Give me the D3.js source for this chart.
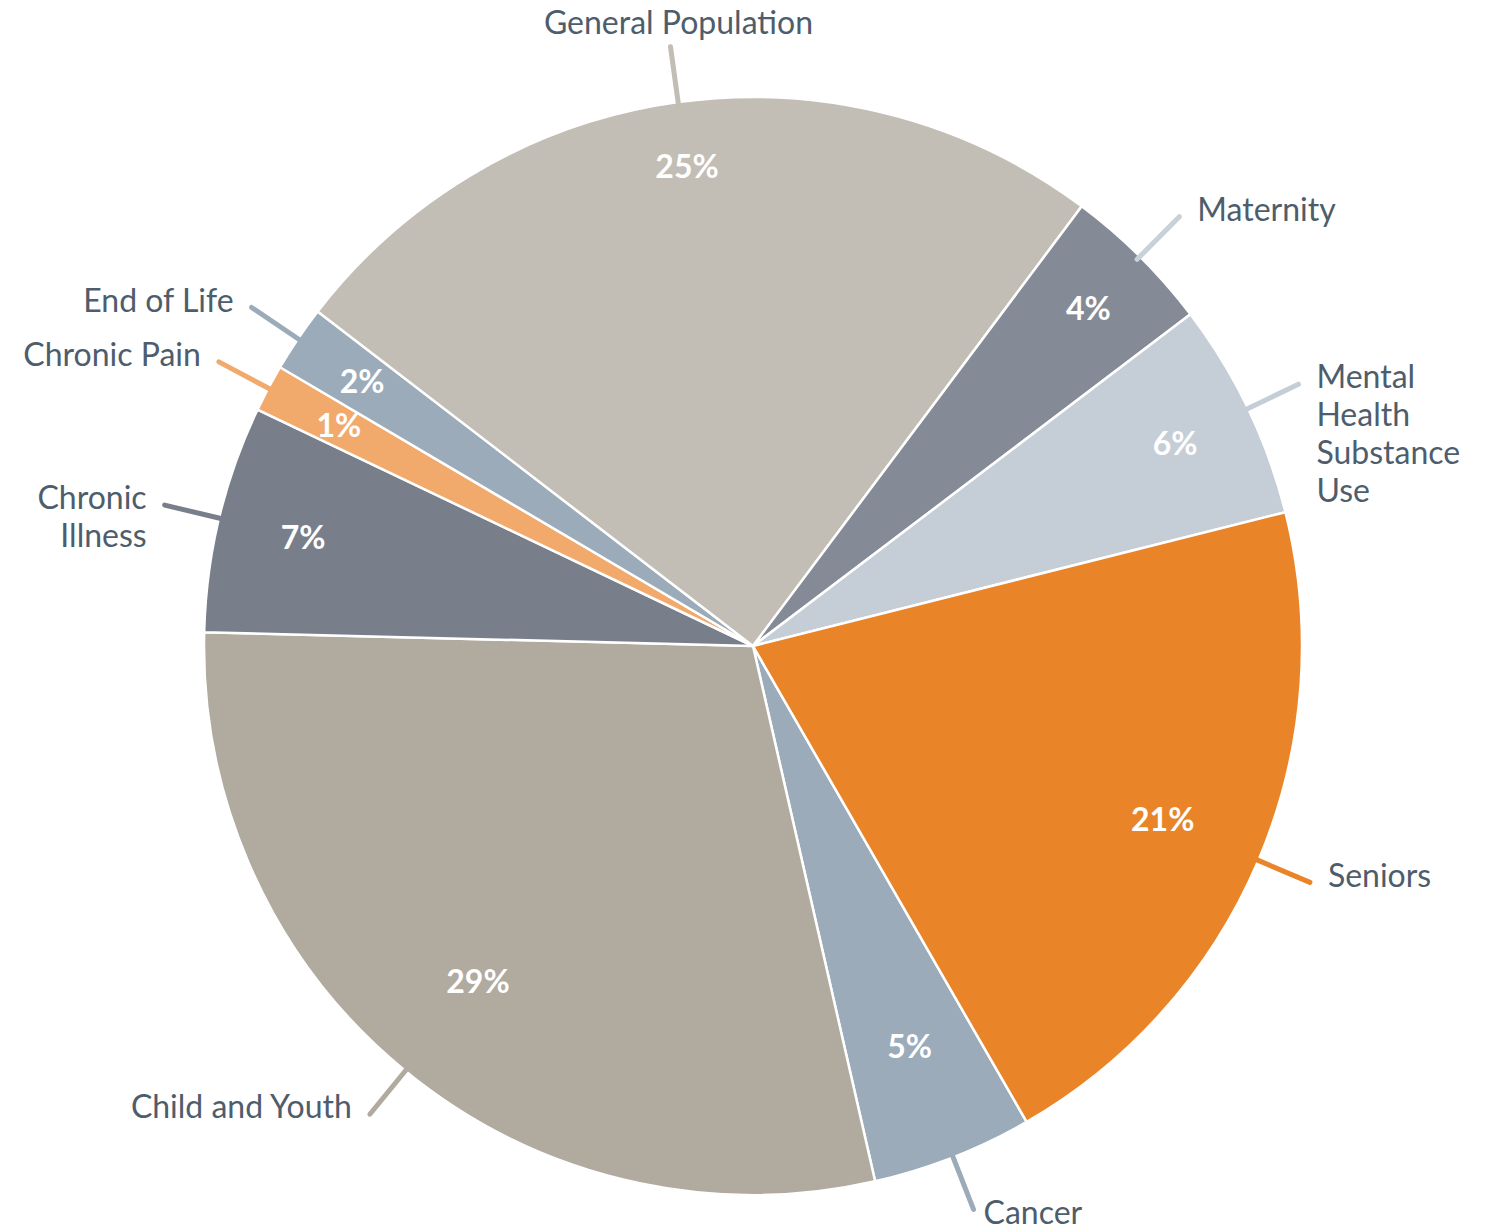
<!DOCTYPE html>
<html>
<head>
<meta charset="utf-8">
<script src="https://cdn.jsdelivr.net/npm/d3@7"></script>
<style>
  body { margin: 0; background: #fff; }
  svg { display: block; font-family: Lato, "Open Sans", sans-serif; }
</style>
</head>
<body>
<div id="chart"></div>
<script>
const categories = ["Cancer", "Child and Youth", "Chronic Illness", "Chronic Pain", "End of Life",
    "General Population", "Maternity", "Mental Health Substance Use", "Seniors"];
const counts = [17, 104, 24, 5, 7, 89, 16, 23, 74];
const sliceColors = ["#9babb9", "#b1aa9f", "#787e8a", "#f1aa6b", "#9babb9",
    "#c2bdb5", "#858b96", "#c5cdd6", "#e98428"];
const lineColors = ["#9babb9", "#b1aa9f", "#787e8a", "#f1aa6b", "#9babb9",
    "#c2bdb5", "#c8d0d8", "#c5cdd6", "#e98428"];

const data = categories.map((c, i) => ({ name: c, value: counts[i] }));
const total = d3.sum(counts);

const W = 1508, H = 1232, cx = 753, cy = 646, r = 549;
const start = 150.1 * Math.PI / 180;

const color = d3.scaleOrdinal().domain(categories).range(sliceColors);
const lineColor = d3.scaleOrdinal().domain(categories).range(lineColors);

const pie = d3.pie().sort(null).value(d => d.value)
    .startAngle(start).endAngle(start + 2 * Math.PI);
const arc = d3.arc().innerRadius(0).outerRadius(r);
const arcs = pie(data);

const pt = (a, rad) => [rad * Math.sin(a), -rad * Math.cos(a)];
const mid = d => (d.startAngle + d.endAngle) / 2;

const svg = d3.select("#chart").append("svg")
    .attr("width", W).attr("height", H);
const g = svg.append("g").attr("transform", `translate(${cx},${cy})`);

g.selectAll(".slice")
    .data(arcs)
    .enter()
    .append("path")
    .attr("class", "slice")
    .attr("d", arc)
    .style("fill", d => color(d.data.name))
    .style("stroke", "#fff")
    .style("stroke-width", 2.5)
    .style("stroke-linejoin", "round");

// connectors
g.selectAll(".conn")
    .data(arcs)
    .enter()
    .append("line")
    .attr("class", "conn")
    .attr("x1", d => pt(mid(d), r - 4)[0])
    .attr("y1", d => pt(mid(d), r - 4)[1])
    .attr("x2", d => pt(mid(d), r + 56)[0])
    .attr("y2", d => pt(mid(d), r + 56)[1])
    .style("stroke", d => lineColor(d.data.name))
    .style("stroke-width", 5)
    .style("stroke-linecap", "round");

// outside labels
g.selectAll(".lbl")
    .data(arcs)
    .enter()
    .append("text")
    .attr("class", "lbl")
    .style("font-size", "32px")
    .style("fill", "#4e5d6c")
    .each(function (d) {
        const a = mid(d);
        const e = pt(a, r + 56);
        const s = Math.sin(a), c = Math.cos(a);
        let x, y, anchor;
        if (c > 0.9) {
            x = e[0] + 8; y = e[1] - 24; anchor = "middle";
        } else if (c < -0.9) {
            x = e[0] + (s >= 0 ? 10 : -10); y = e[1] + 3; anchor = s >= 0 ? "start" : "end";
        } else {
            x = e[0] + (s >= 0 ? 18 : -18); y = e[1] - 7; anchor = s >= 0 ? "start" : "end";
        }
        const t = d3.select(this)
            .attr("text-anchor", anchor)
            .attr("x", x).attr("y", y);
        // available width to the edge of the picture
        const absX = cx + x;
        const avail = anchor === "start" ? W - absX - 4 : anchor === "end" ? absX - 4 : W;
        const words = d.data.name.split(" ");
        let lines = [], cur = [];
        const probe = t.append("tspan");
        words.forEach(w => {
            const test = cur.concat([w]).join(" ");
            probe.text(test);
            if (cur.length && probe.node().getComputedTextLength() > avail) {
                lines.push(cur.join(" "));
                cur = [w];
            } else {
                cur.push(w);
            }
        });
        lines.push(cur.join(" "));
        probe.remove();
        lines.forEach((ln, i) => {
            t.append("tspan")
                .attr("x", x)
                .attr("dy", i === 0 ? "0.35em" : 38)
                .text(ln);
        });
    });

// percentage labels
g.selectAll(".pct")
    .data(arcs)
    .enter()
    .append("text")
    .attr("class", "pct")
    .attr("transform", d => {
        const a = mid(d);
        const p = pt(a, 456 + 28 * Math.cos(a));
        return `translate(${p[0]},${p[1]})`;
    })
    .attr("text-anchor", "middle")
    .attr("dy", "0.35em")
    .style("font-size", "32px")
    .style("font-weight", "bold")
    .style("fill", "#fff")
    .text(d => Math.round(d.data.value / total * 100) + "%");
</script>
</body>
</html>
